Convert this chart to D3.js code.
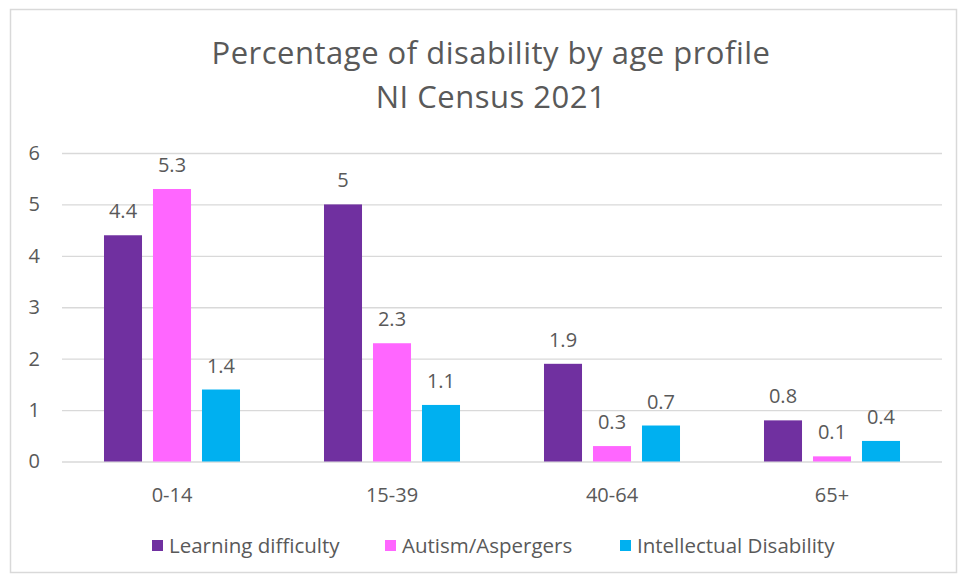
<!DOCTYPE html>
<html>
<head>
<meta charset="utf-8">
<script src="https://cdn.jsdelivr.net/npm/d3@7"></script>
<style>
  html, body { margin: 0; padding: 0; background: #fff; }
  svg { display: block; }
  text { font-family: "Open Sans", Lato, sans-serif; fill: #595959; }
</style>
</head>
<body>
<svg id="chart" width="960" height="581"></svg>
<script>
// Age bands along the x axis
const ageGroups = ["0-14", "15-39", "40-64", "65+"];
// Series names and values (%)
const seriesNames = ["Learning difficulty", "Autism/Aspergers", "Intellectual Disability"];
const learningDifficulty = [4.4, 5.0, 1.9, 0.8];
const autismAspergers = [5.3, 2.3, 0.3, 0.1];
const intellectualDisability = [1.4, 1.1, 0.7, 0.4];
const yTicks = [0, 1, 2, 3, 4, 5, 6];
const seriesColors = ["#7030A0", "#FF66FF", "#00B0F0"];

const seriesValues = [learningDifficulty, autismAspergers, intellectualDisability];
const rows = ageGroups.map((g, i) => ({
  group: g,
  values: seriesNames.map((s, k) => ({ key: s, k, value: seriesValues[k][i] }))
}));

const svg = d3.select("#chart");

// chart frame
svg.append("rect")
  .attr("x", 10.5).attr("y", 9.5)
  .attr("width", 946).attr("height", 563)
  .attr("fill", "#fff").attr("stroke", "#d9d9d9").attr("stroke-width", 1.5);

// title
const title = svg.append("text")
  .attr("text-anchor", "middle")
  .style("font-size", "31px")
  .style("letter-spacing", "0.5px");
title.append("tspan").attr("x", 491).attr("y", 64).text("Percentage of disability by age profile");
title.append("tspan").attr("x", 491).attr("y", 108).text("NI Census 2021");

const plot = { left: 62, right: 942, top: 153, bottom: 461.5 };

const x0 = d3.scaleBand().domain(ageGroups).range([plot.left, plot.right]).paddingInner(0).paddingOuter(0);
const x1 = d3.scaleBand().domain(seriesNames).range([0, x0.bandwidth()]).paddingInner(0.224).paddingOuter(0.857);
const y = d3.scaleLinear().domain([0, 6]).range([plot.bottom, plot.top]);

// gridlines + y tick labels
const yAxis = d3.axisLeft(y).tickValues(yTicks).tickSize(-(plot.right - plot.left)).tickFormat(d3.format("d"));
const gy = svg.append("g").attr("transform", `translate(${plot.left},0)`).call(yAxis);
gy.select(".domain").remove();
gy.selectAll(".tick line").attr("stroke", "#d9d9d9").attr("stroke-width", 1.3);
gy.selectAll(".tick text").attr("x", -22).style("font-size", "20px").style("fill", "#595959")
  .style("font-family", "'Open Sans', sans-serif");

// bars
const groups = svg.append("g").selectAll("g").data(rows).join("g")
  .attr("transform", d => `translate(${x0(d.group)},0)`);

groups.selectAll("rect").data(d => d.values).join("rect")
  .attr("x", d => x1(d.key))
  .attr("width", x1.bandwidth())
  .attr("y", d => y(d.value))
  .attr("height", d => y(0) - y(d.value))
  .attr("fill", d => seriesColors[d.k]);

// value labels
groups.selectAll("text.val").data(d => d.values).join("text")
  .attr("class", "val")
  .attr("x", d => x1(d.key) + x1.bandwidth() / 2)
  .attr("y", d => y(d.value) - 17)
  .attr("text-anchor", "middle")
  .style("font-size", "20px")
  .text(d => d.value);

// x axis labels
const xAxis = d3.axisBottom(x0).tickSize(0).tickPadding(0);
const gx = svg.append("g").attr("transform", `translate(0,${plot.bottom})`).call(xAxis);
gx.select(".domain").remove();
gx.selectAll(".tick text").attr("dy", 0).attr("y", 40.5).style("font-size", "20px").style("fill", "#595959")
  .style("font-family", "'Open Sans', sans-serif");

// legend
const legendX = [152, 385, 620];
const legend = svg.append("g").selectAll("g").data(seriesNames).join("g")
  .attr("transform", (d, i) => `translate(${legendX[i]},${553})`);
legend.append("rect").attr("x", 0).attr("y", -13).attr("width", 11).attr("height", 11)
  .attr("fill", (d, i) => seriesColors[i]);
legend.append("text").attr("x", 17).attr("y", 0).style("font-size", "20.5px").text(d => d);
</script>
</body>
</html>
